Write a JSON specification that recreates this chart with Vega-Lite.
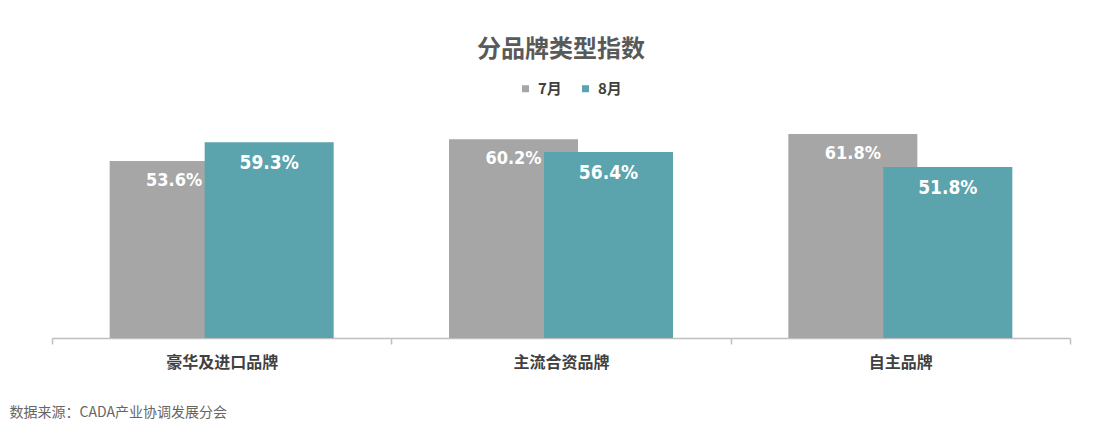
{
  "$schema": "https://vega.github.io/schema/vega-lite/v6.json",
  "width": 1018,
  "height": 231,
  "autosize": "none",
  "padding": {"left": 52, "top": 107, "right": 26, "bottom": 99},
  "background": "white",
  "title": {
    "text": "分品牌类型指数",
    "font": "Noto Sans CJK SC",
    "fontSize": 24,
    "fontWeight": "bold",
    "color": "#595959",
    "anchor": "middle",
    "offset": 19
  },
  "data": {
    "values": [
      {"cat": "豪华及进口品牌", "month": "7月", "value": 53.6, "label": "53.6%"},
      {"cat": "豪华及进口品牌", "month": "8月", "value": 59.3, "label": "59.3%"},
      {"cat": "主流合资品牌", "month": "7月", "value": 60.2, "label": "60.2%"},
      {"cat": "主流合资品牌", "month": "8月", "value": 56.4, "label": "56.4%"},
      {"cat": "自主品牌", "month": "7月", "value": 61.8, "label": "61.8%"},
      {"cat": "自主品牌", "month": "8月", "value": 51.8, "label": "51.8%"}
    ]
  },
  "encoding": {
    "x": {
      "field": "cat",
      "type": "nominal",
      "sort": ["豪华及进口品牌", "主流合资品牌", "自主品牌"],
      "scale": {"paddingInner": 0, "paddingOuter": 0},
      "axis": {
        "labelAngle": 0,
        "tickBand": "extent",
        "domainColor": "#bfbfbf",
        "domainWidth": 1.5,
        "tickColor": "#bfbfbf",
        "tickWidth": 1.5,
        "tickSize": 6,
        "labelFont": "Noto Sans CJK SC",
        "labelFontSize": 16,
        "labelFontWeight": "bold",
        "labelColor": "#404040",
        "labelPadding": 10,
        "grid": false,
        "title": "数据来源：CADA产业协调发展分会",
        "titleAnchor": "start",
        "titleAlign": "left",
        "titleX": -43,
        "titleY": 78,
        "titleBaseline": "alphabetic",
        "titleFont": "Noto Sans CJK SC",
        "titleFontSize": 14,
        "titleFontWeight": "normal",
        "titleColor": "#666666"
      }
    },
    "y": {
      "field": "value",
      "type": "quantitative",
      "scale": {"domain": [0, 70]},
      "axis": null
    }
  },
  "layer": [
    {
      "transform": [{"filter": "datum.month === '7月'"}],
      "mark": {"type": "bar", "width": 129, "xOffset": -47.5},
      "encoding": {
        "color": {
          "field": "month",
          "type": "nominal",
          "scale": {"domain": ["7月", "8月"], "range": ["#A6A6A6", "#5BA3AD"]},
          "legend": {
            "orient": "none",
            "legendX": 466,
            "legendY": -26,
            "direction": "horizontal",
            "title": null,
            "symbolType": "square",
            "symbolSize": 49,
            "symbolStrokeWidth": 0,
            "labelFont": "Noto Sans CJK SC",
            "labelFontSize": 15,
            "labelFontWeight": "bold",
            "labelColor": "#404040",
            "labelOffset": 5,
            "columnPadding": 16,
            "padding": 0
          }
        }
      }
    },
    {
      "transform": [{"filter": "datum.month === '8月'"}],
      "mark": {"type": "bar", "width": 129, "xOffset": 47.5},
      "encoding": {
        "color": {"field": "month", "type": "nominal"}
      }
    },
    {
      "transform": [{"filter": "datum.month === '7月'"}],
      "mark": {
        "type": "text",
        "xOffset": -47.5,
        "dy": 20,
        "baseline": "middle",
        "align": "center",
        "font": "DejaVu Sans Condensed, Liberation Sans, sans-serif",
        "fontWeight": "bold",
        "fontSize": 18,
        "color": "white"
      },
      "encoding": {"text": {"field": "label"}}
    },
    {
      "transform": [{"filter": "datum.month === '8月'"}],
      "mark": {
        "type": "text",
        "xOffset": 47.5,
        "dy": 21,
        "baseline": "middle",
        "align": "center",
        "font": "DejaVu Sans Condensed, Liberation Sans, sans-serif",
        "fontWeight": "bold",
        "fontSize": 19,
        "color": "white"
      },
      "encoding": {"text": {"field": "label"}}
    }
  ],
  "config": {
    "view": {"stroke": null}
  }
}
